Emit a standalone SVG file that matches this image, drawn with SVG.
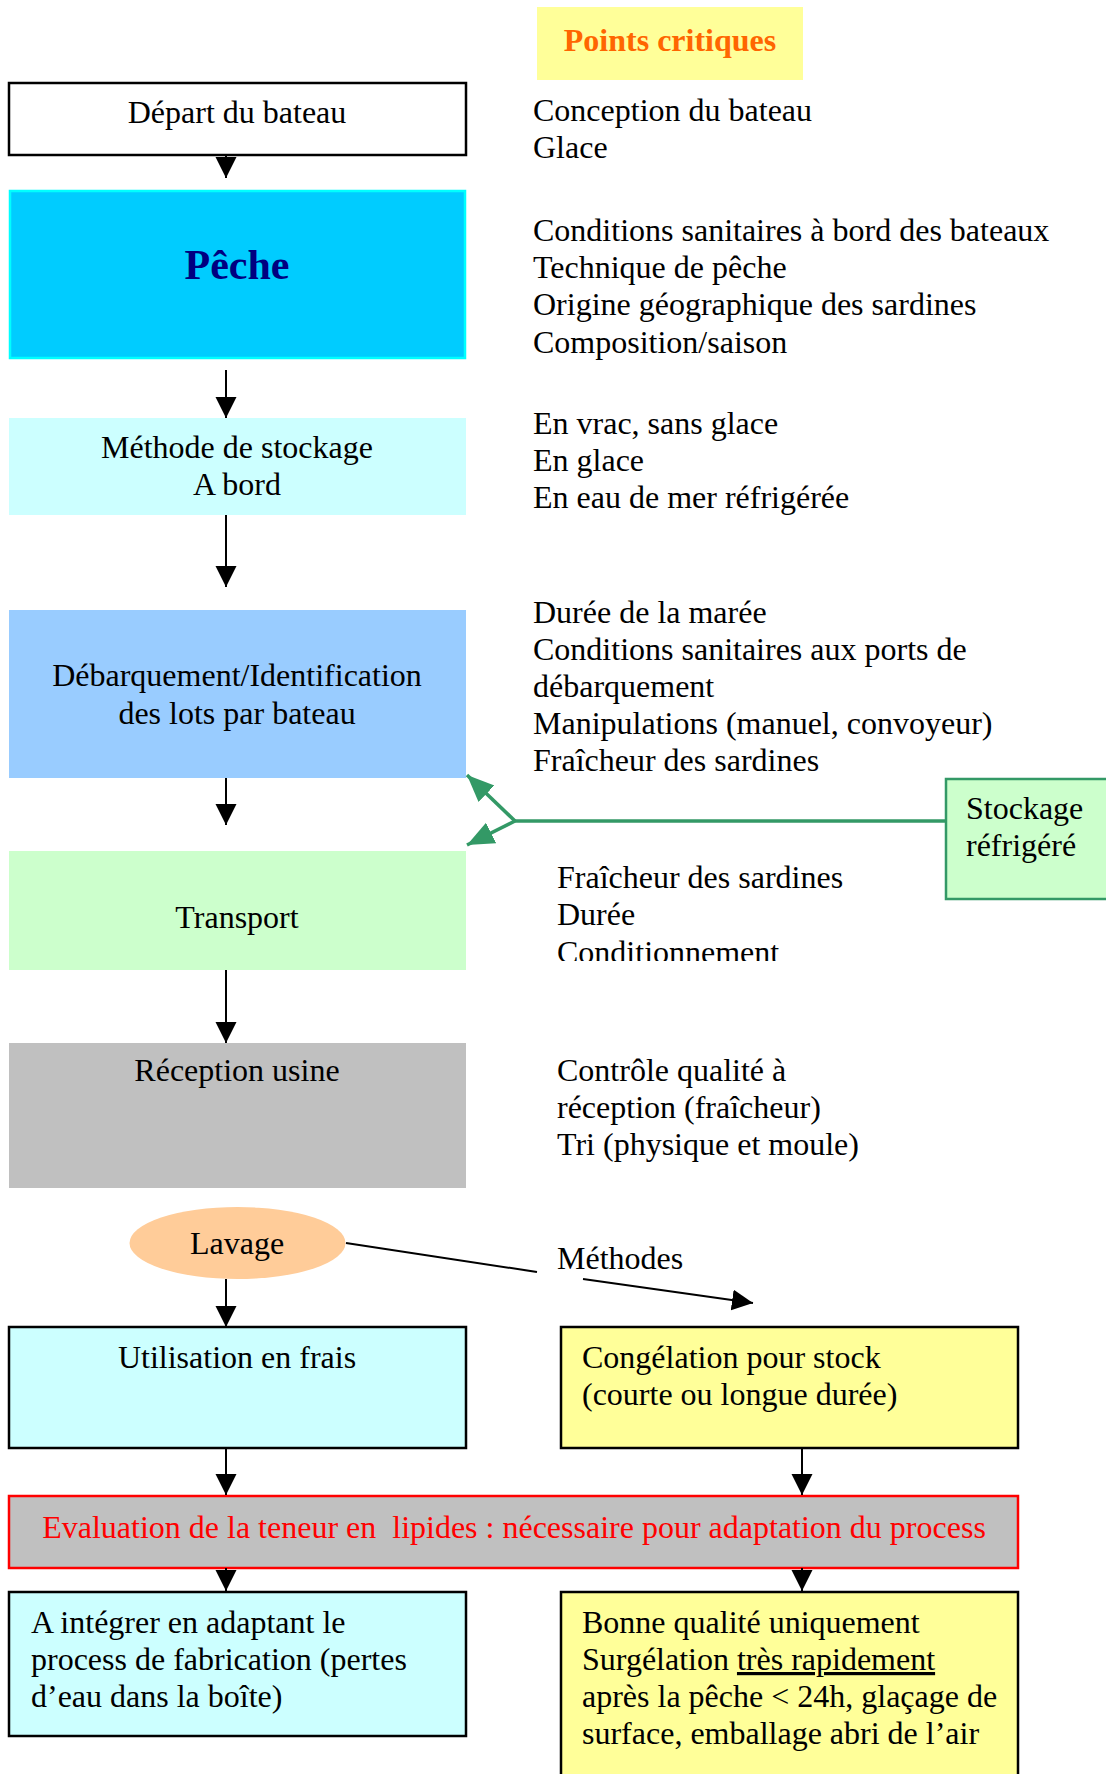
<svg xmlns="http://www.w3.org/2000/svg" width="1106" height="1774" viewBox="0 0 1106 1774">
<style>
text{font-family:"Liberation Serif","Times New Roman",serif;font-size:32px;fill:#000}
.c{text-anchor:middle}
.b{font-weight:bold}
.box{stroke:#000;stroke-width:2.5}
.ln{stroke:#000;stroke-width:2;fill:none}
.gl{stroke:#339966;stroke-width:3.5;fill:none}
</style>
<defs>
<marker id="ah" markerUnits="userSpaceOnUse" markerWidth="22" markerHeight="22" refX="21" refY="10.5" orient="auto">
<path d="M0,0 L21,10.5 L0,21 z" fill="#000"/>
</marker>
<marker id="gh" markerUnits="userSpaceOnUse" markerWidth="28" markerHeight="24" refX="27" refY="11.5" orient="auto">
<path d="M0,0 L27,11.5 L0,23 z" fill="#339966"/>
</marker>
<clipPath id="clipT"><rect x="540" y="860" width="400" height="101"/></clipPath>
</defs>
<rect width="1106" height="1774" fill="#fff"/>

<g id="points-critiques">
<rect x="537" y="7" width="266" height="73" fill="#FFFF99"/>
<text class="c b" x="670" y="51" style="fill:#FF6600">Points critiques</text>
</g>

<g id="depart">
<rect class="box" x="9" y="83" width="457" height="72" fill="#fff"/>
<text class="c" x="237" y="123">Départ du bateau</text>
</g>
<g id="depart-notes">
<text x="533" y="121">Conception du bateau</text>
<text x="533" y="158">Glace</text>
</g>

<g id="peche">
<rect x="10" y="191" width="455" height="167" fill="#00CCFF" stroke="#00FFFF" stroke-width="2.5"/>
<text class="c b" x="237" y="279" style="font-size:42px;fill:#000080">Pêche</text>
</g>
<g id="peche-notes">
<text x="533" y="241">Conditions sanitaires à bord des bateaux</text>
<text x="533" y="278">Technique de pêche</text>
<text x="533" y="315">Origine géographique des sardines</text>
<text x="533" y="353">Composition/saison</text>
</g>

<g id="methode">
<rect x="9" y="418" width="457" height="97" fill="#CCFFFF"/>
<text class="c" x="237" y="458">Méthode de stockage</text>
<text class="c" x="237" y="495">A bord</text>
</g>
<g id="methode-notes">
<text x="533" y="434">En vrac, sans glace</text>
<text x="533" y="471">En glace</text>
<text x="533" y="508">En eau de mer réfrigérée</text>
</g>

<g id="debarquement">
<rect x="9" y="610" width="457" height="168" fill="#99CCFF"/>
<text class="c" x="237" y="686">Débarquement/Identification</text>
<text class="c" x="237" y="724">des lots par bateau</text>
</g>
<g id="debarquement-notes">
<text x="533" y="623">Durée de la marée</text>
<text x="533" y="660">Conditions sanitaires aux ports de</text>
<text x="533" y="697">débarquement</text>
<text x="533" y="734">Manipulations (manuel, convoyeur)</text>
<text x="533" y="771">Fraîcheur des sardines</text>
</g>

<g id="stockage-refrigere">
<rect x="946" y="779" width="170" height="120" fill="#CCFFCC" stroke="#339966" stroke-width="2.5"/>
<text x="966" y="819">Stockage</text>
<text x="966" y="856">réfrigéré</text>
</g>

<g id="transport">
<rect x="9" y="851" width="457" height="119" fill="#CCFFCC"/>
<text class="c" x="237" y="928">Transport</text>
</g>
<g id="transport-notes" clip-path="url(#clipT)">
<text x="557" y="888">Fraîcheur des sardines</text>
<text x="557" y="925">Durée</text>
<text x="557" y="963">Conditionnement</text>
</g>

<g id="reception">
<rect x="9" y="1043" width="457" height="145" fill="#C0C0C0"/>
<text class="c" x="237" y="1081">Réception usine</text>
</g>
<g id="reception-notes">
<text x="557" y="1081">Contrôle qualité à</text>
<text x="557" y="1118">réception (fraîcheur)</text>
<text x="557" y="1155">Tri (physique et moule)</text>
</g>

<g id="lavage">
<ellipse cx="237.5" cy="1243" rx="108" ry="36" fill="#FFCC99"/>
<text class="c" x="237" y="1254">Lavage</text>
</g>

<g id="methodes-label">
<text x="557" y="1269">Méthodes</text>
</g>

<g id="utilisation">
<rect class="box" x="9" y="1327" width="457" height="121" fill="#CCFFFF"/>
<text class="c" x="237" y="1368">Utilisation en frais</text>
</g>

<g id="congelation">
<rect class="box" x="561" y="1327" width="457" height="121" fill="#FFFF99"/>
<text x="582" y="1368">Congélation pour stock</text>
<text x="582" y="1405">(courte ou longue durée)</text>
</g>

<g id="evaluation">
<rect x="9" y="1496" width="1009" height="72" fill="#C0C0C0" stroke="#FF0000" stroke-width="2.5"/>
<text class="c" x="514" y="1538" style="fill:#FF0000;white-space:pre" xml:space="preserve">Evaluation de la teneur en  lipides : nécessaire pour adaptation du process</text>
</g>

<g id="integrer">
<rect class="box" x="9" y="1592" width="457" height="144" fill="#CCFFFF"/>
<text x="31" y="1633">A intégrer en adaptant le</text>
<text x="31" y="1670">process de fabrication (pertes</text>
<text x="31" y="1707">d’eau dans la boîte)</text>
</g>

<g id="bonne-qualite">
<rect class="box" x="561" y="1592" width="457" height="200" fill="#FFFF99"/>
<text x="582" y="1633">Bonne qualité uniquement</text>
<text x="582" y="1670">Surgélation <tspan text-decoration="underline">très rapidement</tspan></text>
<text x="582" y="1707">après la pêche &lt; 24h, glaçage de</text>
<text x="582" y="1744">surface, emballage abri de l’air</text>
</g>

<g id="connectors">
<line class="ln" x1="226" y1="155" x2="226" y2="178" marker-end="url(#ah)"/>
<line class="ln" x1="226" y1="370" x2="226" y2="418" marker-end="url(#ah)"/>
<line class="ln" x1="226" y1="515" x2="226" y2="587" marker-end="url(#ah)"/>
<line class="ln" x1="226" y1="778" x2="226" y2="825" marker-end="url(#ah)"/>
<line class="ln" x1="226" y1="970" x2="226" y2="1043" marker-end="url(#ah)"/>
<line class="ln" x1="226" y1="1279" x2="226" y2="1327" marker-end="url(#ah)"/>
<line class="ln" x1="346" y1="1243" x2="537" y2="1272"/>
<line class="ln" x1="583" y1="1279" x2="753" y2="1303" marker-end="url(#ah)"/>
<line class="ln" x1="226" y1="1448" x2="226" y2="1495" marker-end="url(#ah)"/>
<line class="ln" x1="802" y1="1448" x2="802" y2="1495" marker-end="url(#ah)"/>
<line class="ln" x1="226" y1="1568" x2="226" y2="1591" marker-end="url(#ah)"/>
<line class="ln" x1="802" y1="1568" x2="802" y2="1591" marker-end="url(#ah)"/>
<polyline class="gl" points="946,821 515,821"/>
<line class="gl" x1="515" y1="821" x2="467" y2="775" marker-end="url(#gh)"/>
<line class="gl" x1="515" y1="821" x2="467" y2="845" marker-end="url(#gh)"/>
</g>
</svg>
